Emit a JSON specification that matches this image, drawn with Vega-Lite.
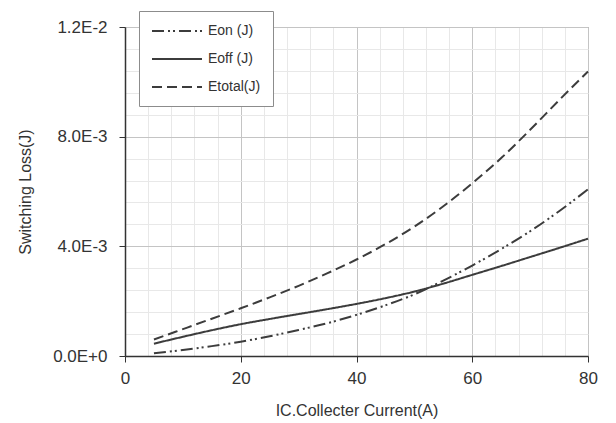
{
  "$schema": "https://vega.github.io/schema/vega-lite/v6.json",
  "width": 463,
  "height": 329,
  "autosize": {"type": "none"},
  "padding": {"left": 125, "top": 27, "right": 28, "bottom": 67},
  "background": "white",
  "config": {
    "font": "Liberation Sans",
    "view": {"stroke": "#8c8c8c", "strokeWidth": 1}
  },
  "data": {
    "values": [
      {"current": 5, "series": "Eon (J)", "loss": 0.00010},
      {"current": 10, "series": "Eon (J)", "loss": 0.00022},
      {"current": 15, "series": "Eon (J)", "loss": 0.00036},
      {"current": 20, "series": "Eon (J)", "loss": 0.00052},
      {"current": 25, "series": "Eon (J)", "loss": 0.00072},
      {"current": 30, "series": "Eon (J)", "loss": 0.00095},
      {"current": 35, "series": "Eon (J)", "loss": 0.00120},
      {"current": 40, "series": "Eon (J)", "loss": 0.00150},
      {"current": 45, "series": "Eon (J)", "loss": 0.00185},
      {"current": 50, "series": "Eon (J)", "loss": 0.00225},
      {"current": 55, "series": "Eon (J)", "loss": 0.00275},
      {"current": 60, "series": "Eon (J)", "loss": 0.00330},
      {"current": 65, "series": "Eon (J)", "loss": 0.00390},
      {"current": 70, "series": "Eon (J)", "loss": 0.00455},
      {"current": 75, "series": "Eon (J)", "loss": 0.00528},
      {"current": 80, "series": "Eon (J)", "loss": 0.00608},
      {"current": 5, "series": "Eoff (J)", "loss": 0.00045},
      {"current": 10, "series": "Eoff (J)", "loss": 0.00070},
      {"current": 15, "series": "Eoff (J)", "loss": 0.00094},
      {"current": 20, "series": "Eoff (J)", "loss": 0.00116},
      {"current": 25, "series": "Eoff (J)", "loss": 0.00135},
      {"current": 30, "series": "Eoff (J)", "loss": 0.00153},
      {"current": 35, "series": "Eoff (J)", "loss": 0.00171},
      {"current": 40, "series": "Eoff (J)", "loss": 0.00190},
      {"current": 45, "series": "Eoff (J)", "loss": 0.00211},
      {"current": 50, "series": "Eoff (J)", "loss": 0.00235},
      {"current": 55, "series": "Eoff (J)", "loss": 0.00264},
      {"current": 60, "series": "Eoff (J)", "loss": 0.00296},
      {"current": 65, "series": "Eoff (J)", "loss": 0.00328},
      {"current": 70, "series": "Eoff (J)", "loss": 0.00361},
      {"current": 75, "series": "Eoff (J)", "loss": 0.00394},
      {"current": 80, "series": "Eoff (J)", "loss": 0.00428},
      {"current": 5, "series": "Etotal(J)", "loss": 0.00060},
      {"current": 10, "series": "Etotal(J)", "loss": 0.00098},
      {"current": 15, "series": "Etotal(J)", "loss": 0.00136},
      {"current": 20, "series": "Etotal(J)", "loss": 0.00174},
      {"current": 25, "series": "Etotal(J)", "loss": 0.00214},
      {"current": 30, "series": "Etotal(J)", "loss": 0.00256},
      {"current": 35, "series": "Etotal(J)", "loss": 0.00302},
      {"current": 40, "series": "Etotal(J)", "loss": 0.00352},
      {"current": 45, "series": "Etotal(J)", "loss": 0.00408},
      {"current": 50, "series": "Etotal(J)", "loss": 0.00472},
      {"current": 55, "series": "Etotal(J)", "loss": 0.00546},
      {"current": 60, "series": "Etotal(J)", "loss": 0.00630},
      {"current": 65, "series": "Etotal(J)", "loss": 0.00722},
      {"current": 70, "series": "Etotal(J)", "loss": 0.00825},
      {"current": 75, "series": "Etotal(J)", "loss": 0.00933},
      {"current": 80, "series": "Etotal(J)", "loss": 0.01038}
    ]
  },
  "mark": {"type": "line", "strokeWidth": 2, "color": "#3c3c3c", "interpolate": "monotone"},
  "encoding": {
    "x": {
      "field": "current",
      "type": "quantitative",
      "scale": {"domain": [0, 80], "nice": false, "zero": false},
      "axis": {
        "title": "IC.Collecter Current(A)",
        "titleFontSize": 16,
        "titleFontWeight": "normal",
        "titleColor": "#333333",
        "titleBaseline": "middle",
        "titleY": 54,
        "values": [0, 4, 8, 12, 16, 20, 24, 28, 32, 36, 40, 44, 48, 52, 56, 60, 64, 68, 72, 76, 80],
        "labelExpr": "datum.value % 20 == 0 ? datum.label : ''",
        "labelFontSize": 17,
        "labelColor": "#333333",
        "labelPadding": 8,
        "labelFlush": false,
        "labelOverlap": false,
        "domainColor": "#333333",
        "domainWidth": 1.5,
        "tickColor": "#333333",
        "tickSize": 6,
        "tickOpacity": {"condition": {"test": "datum.value % 20 == 0", "value": 1}, "value": 0},
        "grid": true,
        "gridColor": {"condition": {"test": "datum.value % 20 == 0", "value": "#c4c4c4"}, "value": "#e8e8e8"},
        "gridWidth": 1
      }
    },
    "y": {
      "field": "loss",
      "type": "quantitative",
      "scale": {"domain": [0, 0.012], "nice": false},
      "axis": {
        "title": "Switching Loss(J)",
        "titleFontSize": 16,
        "titleFontWeight": "normal",
        "titleColor": "#333333",
        "titleBaseline": "middle",
        "titleX": -100,
        "values": [0, 0.0008, 0.0016, 0.0024, 0.0032, 0.004, 0.0048, 0.0056, 0.0064, 0.0072, 0.008, 0.0088, 0.0096, 0.0104, 0.0112, 0.012],
        "labelExpr": "round(datum.value * 10000) % 40 != 0 ? '' : datum.value == 0 ? '0.0E+0' : datum.value < 0.0099 ? format(datum.value * 1000, '.1f') + 'E-3' : format(datum.value * 100, '.1f') + 'E-2'",
        "labelFontSize": 17,
        "labelColor": "#333333",
        "labelPadding": 12,
        "labelFlush": false,
        "labelOverlap": false,
        "domainColor": "#333333",
        "domainWidth": 1.5,
        "tickColor": "#333333",
        "tickSize": 6,
        "tickOpacity": {"condition": {"test": "round(datum.value * 10000) % 40 == 0", "value": 1}, "value": 0},
        "grid": true,
        "gridColor": {"condition": {"test": "round(datum.value * 10000) % 40 == 0", "value": "#c4c4c4"}, "value": "#e8e8e8"},
        "gridWidth": 1
      }
    },
    "strokeDash": {
      "field": "series",
      "type": "nominal",
      "scale": {
        "domain": ["Eon (J)", "Eoff (J)", "Etotal(J)"],
        "range": [[12, 4, 2, 3, 2, 4], [1, 0], [10, 5]]
      },
      "legend": {
        "title": null,
        "orient": "none",
        "legendX": 14,
        "legendY": -16,
        "fillColor": "white",
        "strokeColor": "#8c8c8c",
        "padding": 12,
        "symbolType": "M-1,0H6.14",
        "symbolSize": 196,
        "symbolStrokeWidth": 2,
        "symbolStrokeColor": "#3c3c3c",
        "symbolFillColor": "transparent",
        "labelFontSize": 14,
        "labelColor": "#333333",
        "labelOffset": 41,
        "rowPadding": 13
      }
    }
  }
}
